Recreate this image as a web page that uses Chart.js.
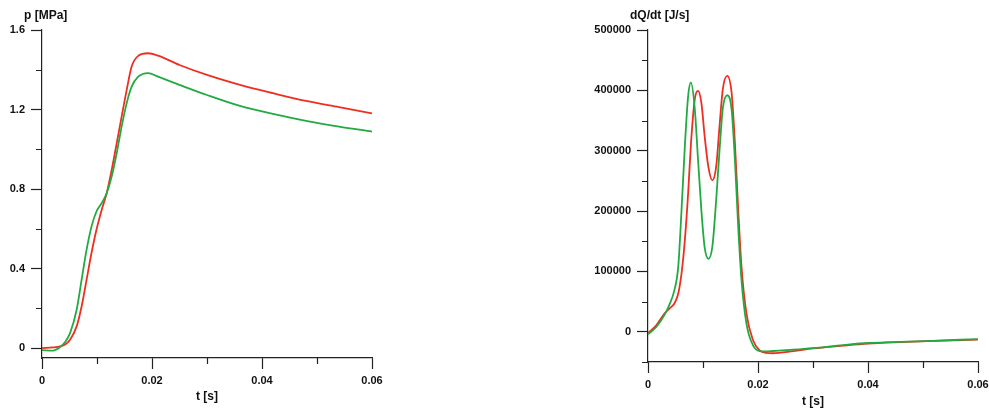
<!DOCTYPE html>
<html><head><meta charset="utf-8">
<script src="https://cdn.jsdelivr.net/npm/chart.js@4"></script>
<style>
html,body{margin:0;padding:0;background:#fff;overflow:hidden}
#wrap{position:relative;width:989px;height:412px;overflow:hidden}
canvas{position:absolute;top:0}
#c1{left:0}
#c2{left:495px}
</style></head><body>
<div id="wrap"><canvas id="c1" width="495" height="412"></canvas><canvas id="c2" width="510" height="412"></canvas></div>
<script>
// ---- data ----
const tP = [0, 0.002, 0.0033, 0.0042, 0.0051, 0.0063, 0.0072, 0.0081, 0.009, 0.0099, 0.01085, 0.01176, 0.01267, 0.01358, 0.01448, 0.0154, 0.0163, 0.0175, 0.0193, 0.0211, 0.025, 0.03, 0.036, 0.042, 0.048, 0.054, 0.06];
const pRed = [0, 0.003, 0.008, 0.018, 0.042, 0.109, 0.209, 0.343, 0.478, 0.595, 0.695, 0.779, 0.896, 1.03, 1.164, 1.299, 1.416, 1.47, 1.483, 1.471, 1.424, 1.374, 1.324, 1.282, 1.243, 1.212, 1.181];
const pGreen = [-0.01, -0.013, 0.005, 0.03, 0.075, 0.193, 0.343, 0.494, 0.611, 0.687, 0.729, 0.779, 0.863, 0.98, 1.114, 1.232, 1.315, 1.365, 1.383, 1.365, 1.324, 1.273, 1.218, 1.178, 1.143, 1.114, 1.089];

const tQ = [0, 0.0015, 0.003, 0.0039, 0.0048, 0.0055, 0.0061, 0.0067, 0.0073, 0.0078, 0.0085, 0.0091, 0.0097, 0.0103, 0.011, 0.0117, 0.0124, 0.013, 0.0136, 0.0144, 0.0152, 0.0158, 0.0164, 0.017, 0.0179, 0.0191, 0.0203, 0.0215, 0.0227, 0.0264, 0.03, 0.0355, 0.04, 0.0445, 0.0506, 0.06];
const qRed = [-2000, 10800, 30300, 38600, 47000, 63500, 96800, 152000, 230000, 310000, 385000, 399000, 379700, 324000, 272000, 251000, 274000, 340000, 401800, 424000, 396000, 313000, 202000, 107800, 30300, -14000, -30800, -35000, -35500, -32000, -27500, -23000, -19700, -17500, -15300, -13000];
const qGreen = [-4000, 8000, 28000, 45000, 69000, 108000, 202000, 307500, 390700, 413000, 370000, 285000, 202000, 140000, 121000, 141000, 218800, 300000, 370000, 391900, 368500, 285000, 174000, 85700, 13600, -22500, -32000, -32500, -31800, -29600, -27000, -22000, -18500, -17000, -15300, -12000];

const xTicks = [0, 0.02, 0.04, 0.06];
const xTickLabels = ['0', '0.02', '0.04', '0.06'];
const xMinor = [0.01, 0.03, 0.05];
const pTicks = [0, 0.4, 0.8, 1.2, 1.6];
const pTickLabels = ['0', '0.4', '0.8', '1.2', '1.6'];
const pMinor = [0.2, 0.6, 1.0, 1.4];
const qTicks = [0, 100000, 200000, 300000, 400000, 500000];
const qTickLabels = ['0', '100000', '200000', '300000', '400000', '500000'];
const qMinor = [-50000, 50000, 150000, 250000, 350000, 450000];

const RED = '#ee2e1f';
const GREEN = '#22aa42';
const AXIS = '#222';
const TXT = '#111';
const FONT = '"Liberation Sans", Arial, sans-serif';

Chart.defaults.font.family = FONT;
Chart.defaults.font.size = 11;
Chart.defaults.font.weight = 'bold';
Chart.defaults.color = TXT;

const axisExtras = {
  id: 'axisExtras',
  afterDraw(chart, args, opts) {
    const ctx = chart.ctx, xs = chart.scales.x, ys = chart.scales.y;
    ctx.save();
    ctx.strokeStyle = AXIS; ctx.lineWidth = 1.2;
    ctx.beginPath();
    opts.xMinor.forEach(v => { const px = Math.round(xs.getPixelForValue(v)) + 0.5; ctx.moveTo(px, xs.top); ctx.lineTo(px, xs.top + 6); });
    opts.yMinor.forEach(v => { const py = Math.round(ys.getPixelForValue(v)) + 0.5; ctx.moveTo(ys.right, py); ctx.lineTo(ys.right - 6, py); });
    ctx.stroke();
    ctx.font = 'bold 12px ' + FONT; ctx.textAlign = 'left'; ctx.textBaseline = 'middle'; ctx.fillStyle = TXT;
    ctx.fillText(opts.yTitle, ys.right - 18, 16);
    ctx.restore();
  }
};

function pts(t, v) { return t.map((x, i) => ({x: x, y: v[i]})); }

function makeChart(id, o) {
  return new Chart(document.getElementById(id), {
    type: 'line',
    data: { datasets: [
      { data: pts(o.t, o.green), borderColor: GREEN, borderWidth: 1.8, pointRadius: 0, cubicInterpolationMode: 'monotone', order: 0 },
      { data: pts(o.t, o.red), borderColor: RED, borderWidth: 1.8, pointRadius: 0, cubicInterpolationMode: 'monotone', order: 1 }
    ]},
    options: {
      responsive: false, animation: false, devicePixelRatio: 1,
      layout: { padding: { top: 30, right: o.padRight, left: 0, bottom: 0 } },
      plugins: { legend: { display: false }, tooltip: { enabled: false },
        axisExtras: { xMinor: xMinor, yMinor: o.yMinor, yTitle: o.yTitle } },
      scales: {
        x: {
          type: 'linear', min: 0, max: 0.06,
          afterFit: s => { s.height = o.xH; },
          afterBuildTicks: s => { s.ticks = xTicks.map(v => ({value: v})); },
          ticks: { callback: (v) => xTickLabels[xTicks.indexOf(v)], padding: 5, maxRotation: 0, autoSkip: false },
          grid: { drawOnChartArea: false, drawTicks: true, tickLength: 11, tickColor: AXIS, tickWidth: 1.2 },
          border: { display: true, color: AXIS, width: 1.2 },
          title: { display: true, text: 't [s]', font: { size: 12, weight: 'bold' }, padding: { top: 0, bottom: o.xTitlePad } }
        },
        y: {
          type: 'linear', min: o.yMin, max: o.yMax,
          afterFit: s => { s.width = o.yW; },
          afterBuildTicks: s => { s.ticks = o.yTicks.map(v => ({value: v})); },
          ticks: { callback: (v) => o.yTickLabels[o.yTicks.indexOf(v)], padding: 6, autoSkip: false },
          grid: { drawOnChartArea: false, drawTicks: true, tickLength: 11, tickColor: AXIS, tickWidth: 1.2 },
          border: { display: true, color: AXIS, width: 1.2 }
        }
      }
    },
    plugins: [axisExtras]
  });
}

makeChart('c1', { t: tP, red: pRed, green: pGreen, yMin: -0.05, yMax: 1.6, yTicks: pTicks, yTickLabels: pTickLabels, yMinor: pMinor, yTitle: 'p [MPa]', yW: 42, xH: 54, padRight: 123, xTitlePad: 8 });
makeChart('c2', { t: tQ, red: qRed, green: qGreen, yMin: -50000, yMax: 500000, yTicks: qTicks, yTickLabels: qTickLabels, yMinor: qMinor, yTitle: 'dQ/dt [J/s]', yW: 153, xH: 50, padRight: 27, xTitlePad: 3 });
</script>
</body></html>
